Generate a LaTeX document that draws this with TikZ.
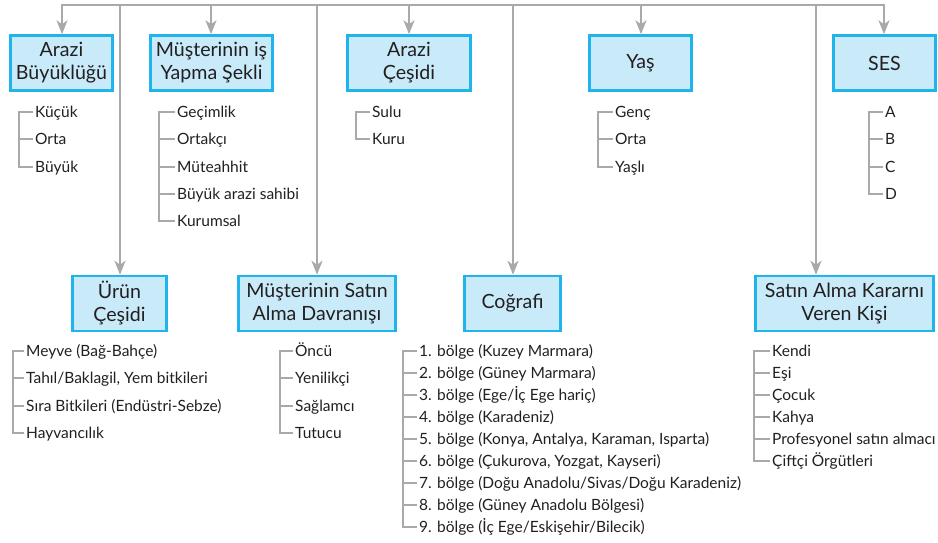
\documentclass[tikz,border=0pt]{standalone}
\usepackage{fontspec}
\setmainfont{Lato}
\usetikzlibrary{arrows.meta}
\definecolor{linegray}{HTML}{A7A9AC}
\definecolor{boxfill}{HTML}{C8EAF9}
\definecolor{boxedge}{HTML}{1FB4EC}
\definecolor{ink}{HTML}{231F20}

\begin{document}
\begin{tikzpicture}[x=1pt,y=-1pt,
  conn/.style={draw=linegray, line width=2pt},
  drop/.style={conn, -{Stealth[length=14pt,width=11pt,inset=4pt]}},
  catbox/.style={draw=boxedge, fill=boxfill, line width=2.5pt, minimum height=55pt,
    inner sep=0pt, align=center, text=ink, font=\fontsize{19.6}{23}\selectfont},
  item/.style={anchor=west, inner ysep=0pt, inner xsep=2pt, text height=11pt, text depth=0pt,
    text=ink, font=\fontsize{15.5}{18}\selectfont}
]
\useasboundingbox (0,0) rectangle (938,542);

% category boxes, upper row
\node[catbox, minimum width=102pt] (bA) at (61.5,63) {Arazi\\Büyüklüğü};
\node[catbox, minimum width=122pt] (bB) at (211.5,63) {Müşterinin iş\\Yapma Şekli};
\node[catbox, minimum width=123pt] (bC) at (409,63) {Arazi\\Çeşidi};
\node[catbox, minimum width=102pt] (bD) at (640.5,63) {Yaş};
\node[catbox, minimum width=102pt] (bE) at (884.5,63) {SES};
% category boxes, lower row
\node[catbox, minimum width=94pt] (bF) at (119.5,303.5) {Ürün\\Çeşidi};
\node[catbox, minimum width=157pt] (bG) at (317,303.5) {Müşterinin Satın\\Alma Davranışı};
\node[catbox, minimum width=96pt] (bH) at (512.5,303.5) {Coğrafi};
\node[catbox, minimum width=178pt] (bI) at (844.5,303.5) {Satın Alma Kararnı\\Veren Kişi};

% drop points on the top rail
\coordinate (dA) at (62,5);
\coordinate (dF) at (120,5);
\coordinate (dB) at (211,5);
\coordinate (dG) at (317,5);
\coordinate (dC) at (409,5);
\coordinate (dH) at (513,5);
\coordinate (dD) at (641,5);
\coordinate (dI) at (816,5);
\coordinate (dE) at (884,5);

\draw[conn, line cap=rect] (dA) -- (dE);
\foreach \d/\b in {A/bA, F/bF, B/bB, G/bG, C/bC, H/bH, D/bD, I/bI, E/bE}
  \draw[drop] (d\d) -- (d\d |- \b.north);

% item lists
\foreach \t [count=\i] in {Küçük, Orta, Büyük}
  \node[item] (a\i) at (33, {112+27.3*(\i-1)}) {\t};
\foreach \t [count=\i] in {Geçimlik, Ortakçı, Müteahhit, Büyük arazi sahibi, Kurumsal}
  \node[item] (b\i) at (175, {112+27.3*(\i-1)}) {\t};
\foreach \t [count=\i] in {Sulu, Kuru}
  \node[item] (c\i) at (370, {112+27.3*(\i-1)}) {\t};
\foreach \t [count=\i] in {Genç, Orta, Yaşlı}
  \node[item] (e\i) at (613, {112+27.3*(\i-1)}) {\t};
\foreach \t [count=\i] in {A, B, C, D}
  \node[item] (s\i) at (883, {112+27.3*(\i-1)}) {\t};
\foreach \t [count=\i] in {Meyve (Bağ-Bahçe), {Tahıl/Baklagil, Yem bitkileri}, Sıra Bitkileri (Endüstri-Sebze), Hayvancılık}
  \node[item] (f\i) at (24, {351+27.3*(\i-1)}) {\t};
\foreach \t [count=\i] in {Öncü, Yenilikçi, Sağlamcı, Tutucu}
  \node[item] (g\i) at (293, {351+27.3*(\i-1)}) {\t};
\foreach \t [count=\i] in {1. bölge (Kuzey Marmara), 2. bölge (Güney Marmara), 3. bölge (Ege/İç Ege hariç),
    4. bölge (Karadeniz), {5. bölge (Konya, Antalya, Karaman, Isparta)}, {6. bölge (Çukurova, Yozgat, Kayseri)},
    7. bölge (Doğu Anadolu/Sivas/Doğu Karadeniz), 8. bölge (Güney Anadolu Bölgesi), 9. bölge (İç Ege/Eskişehir/Bilecik)}
  \node[item] (h\i) at (417, {351+22*(\i-1)}) {\t};
\foreach \t [count=\i] in {Kendi, Eşi, Çocuk, Kahya, Profesyonel satın almacı, Çiftçi Örgütleri}
  \node[item] (k\i) at (770, {351+22*(\i-1)}) {\t};

% list trunks and ticks
\coordinate (aT) at (19,0);
\coordinate (bT) at (159,0);
\coordinate (cT) at (356,0);
\coordinate (eT) at (598,0);
\coordinate (sT) at (869,0);
\coordinate (fT) at (13,0);
\coordinate (gT) at (280,0);
\coordinate (hT) at (403,0);
\coordinate (kT) at (754,0);
\foreach \p/\n in {a/3, b/5, c/2, e/3, s/4, f/4, g/4, h/9, k/6} {
  \draw[conn] (\p1.west) -- (\p T |- \p1.west) -- (\p T |- \p\n.west) -- (\p\n.west);
  \foreach \i in {1,...,\n}
    \draw[conn] (\p T |- \p\i.west) -- (\p\i.west);
}
\end{tikzpicture}
\end{document}
